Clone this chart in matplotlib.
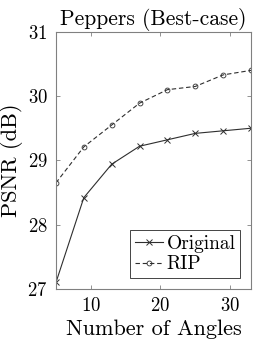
import numpy as np
import matplotlib.pyplot as plt

plt.rcParams['font.family'] = 'serif'
plt.rcParams['font.serif'] = ['cmr10']
plt.rcParams['mathtext.fontset'] = 'cm'
plt.rcParams['axes.formatter.use_mathtext'] = True

# datos
angles = [5, 9, 13, 17, 21, 25, 29, 33]
psnr_original = [27.1, 28.42, 28.94, 29.22, 29.32, 29.42, 29.46, 29.5]
psnr_rip = [28.65, 29.21, 29.55, 29.89, 30.1, 30.15, 30.33, 30.4]

fig = plt.figure(figsize=(2.77, 3.46), dpi=100)
ax = fig.add_axes([0.202, 0.165, 0.704, 0.743])

ax.plot(angles, psnr_original, '-', color='#2e2e2e', lw=0.8, marker='x', ms=4, mew=0.7, label='Original')
ax.plot(angles, psnr_rip, '--', color='#2e2e2e', lw=0.8, marker='o', ms=3.5, mew=0.6,
        mfc='none', label='RIP', dashes=(4, 2.5))

ax.set_xlim(5, 33)
ax.set_ylim(27, 31)
ax.set_xticks([10, 20, 30])
ax.set_yticks([27, 28, 29, 30, 31])
ax.tick_params(direction='in', length=3, width=0.6, color='#808080', labelsize=13.5,
               top=True, right=True, pad=6)
for s in ax.spines.values():
    s.set_color('#808080')
    s.set_linewidth(0.8)

ax.set_xlabel('Number of Angles', fontsize=16, labelpad=3)
ax.set_ylabel('PSNR (dB)', fontsize=16, labelpad=3)
ax.set_title('Peppers (Best-case)', fontsize=15.5, pad=5)

leg = ax.legend(loc='lower right', fontsize=14, fancybox=False, framealpha=1,
                edgecolor='#262626', handlelength=1.4, handletextpad=0.2,
                borderpad=0.25, labelspacing=0.15, borderaxespad=0.55)
leg.get_frame().set_linewidth(0.6)

fig.savefig('out.png', dpi=100)
